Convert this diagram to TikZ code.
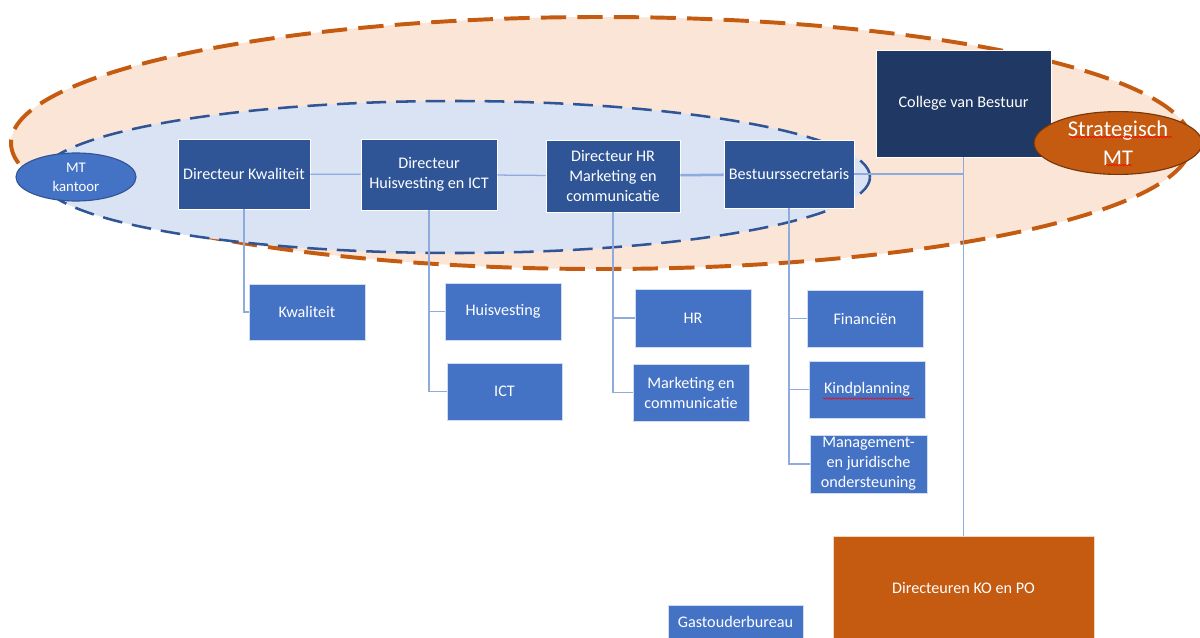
\documentclass[tikz,border=0pt]{standalone}
\usepackage{fontspec}
\setmainfont{Carlito}
\usetikzlibrary{shapes.geometric,decorations.pathmorphing}

\definecolor{peach}{HTML}{FBE5D6}
\definecolor{rust}{HTML}{C55A11}
\definecolor{paleblue}{HTML}{DAE3F3}
\definecolor{darkblue}{HTML}{2F5597}
\definecolor{midblue}{HTML}{4472C4}
\definecolor{navy}{HTML}{1F3864}
\definecolor{linkblue}{HTML}{8FAADC}

\tikzset{
  boxsize/.style 2 args={minimum width=#1*0.025cm,minimum height=#2*0.025cm},
  dirbox/.style={draw=white,line width=0.6pt,fill=darkblue,text=white,align=center,inner sep=1pt},
  unitbox/.style={draw=white!75!midblue,line width=0.6pt,fill=midblue,text=white,align=center,inner sep=1pt},
  zone/.style={ellipse,inner sep=0pt},
  link/.style={draw=linkblue,line width=0.9pt},
  spell/.style={draw=red,line width=0.4pt,decorate,decoration={snake,amplitude=0.5pt,segment length=2.2pt}}
}

\begin{document}
\begin{tikzpicture}[x=0.025cm,y=-0.025cm,font=\fontsize{11.5}{14.2}\selectfont]

  \useasboundingbox (0,0) rectangle (1200,637);

  \node[zone, boxsize={1180}{252}, fill=peach, draw=rust, line width=2.8pt, dash pattern=on 18pt off 8pt] (smtzone) at (601,143) {};
  \node[zone, boxsize={830}{152}, fill=paleblue, draw=darkblue, line width=1.8pt, dash pattern=on 14pt off 7pt] (mtzone) at (455,177) {};

  \node[dirbox, boxsize={132}{70}] (dirkwal) at (244,174) {Directeur Kwaliteit};
  \node[dirbox, boxsize={136}{71}] (dirhuis) at (429,174.5) {Directeur\\Huisvesting en ICT};
  \node[dirbox, boxsize={134}{72}] (dirhr) at (613,176) {Directeur HR\\Marketing en\\communicatie};
  \node[dirbox, boxsize={130}{68}] (bestsec) at (789,174) {Bestuurssecretaris};
  \node[dirbox, fill=navy, boxsize={175}{107}] (cvb) at (963.5,103.5) {College van Bestuur};

  \node[unitbox, boxsize={116}{56}] (kwal) at (307,312) {Kwaliteit};
  \node[unitbox, boxsize={116}{57}] (huis) at (503,311.5) {Huisvesting};
  \node[unitbox, boxsize={115}{57}] (ict) at (504.5,391.5) {ICT};
  \node[unitbox, boxsize={116}{58}] (hr) at (693,318) {HR};
  \node[unitbox, boxsize={116}{57}] (mark) at (691,392.5) {Marketing en\\communicatie};
  \node[unitbox, boxsize={116}{57}] (fin) at (865,318.5) {Financiën};
  \node[unitbox, boxsize={116}{57}] (kind) at (867,389.5) {Kindplanning};
  \node[unitbox, boxsize={117}{58}] (mgmt) at (868.5,464) {Management-\\en juridische\\ondersteuning};
  \node[unitbox, fill=rust, draw=white!75!rust, boxsize={261}{104}] (dirko) at (963.5,588) {Directeuren KO en PO};
  \node[unitbox, boxsize={135}{34}] (gast) at (735.5,622) {Gastouderbureau};

  \draw[link] (dirkwal) -- (dirhuis);
  \draw[link] (dirhuis) -- (dirhr);
  \draw[link, line width=1.8pt] (dirhr) -- (bestsec);
  \draw[link, line width=1.8pt] (bestsec.east) -- (bestsec.east -| cvb.south);
  \draw[link] (cvb.south) -- (dirko.north);
  \draw[link] (dirkwal.south) |- (kwal.west);
  \draw[link] (dirhuis.south) |- (huis.west);
  \draw[link] (dirhuis.south) |- (ict.west);
  \draw[link] (dirhr.south) |- (hr.west);
  \draw[link] (dirhr.south) |- (mark.west);
  \draw[link] (bestsec.south) |- (fin.west);
  \draw[link] (bestsec.south) |- (kind.west);
  \draw[link] (bestsec.south) |- (mgmt.west);

  \node[zone, boxsize={120}{48}, fill=midblue, draw=darkblue, line width=0.8pt, text=white, align=center, font=\fontsize{10.5}{13.5}\selectfont] (mtk) at (76,177) {MT\\kantoor};
  \node[zone, boxsize={168}{62}, fill=rust, draw=rust!60!black, line width=0.8pt, text=white, align=center, font=\fontsize{16}{20.5}\selectfont] (smt) at (1118,143) {Strategisch\\MT};

  \draw[spell] ([shift={(-44,9)}]kind.center) -- ([shift={(46,9)}]kind.center);
  \draw[spell] ([shift={(-48,-6)}]smt.center) -- ([shift={(54,-6)}]smt.center);
  \draw[spell] ([shift={(-12,22)}]smt.center) -- ([shift={(14,22)}]smt.center);
\end{tikzpicture}
\end{document}
